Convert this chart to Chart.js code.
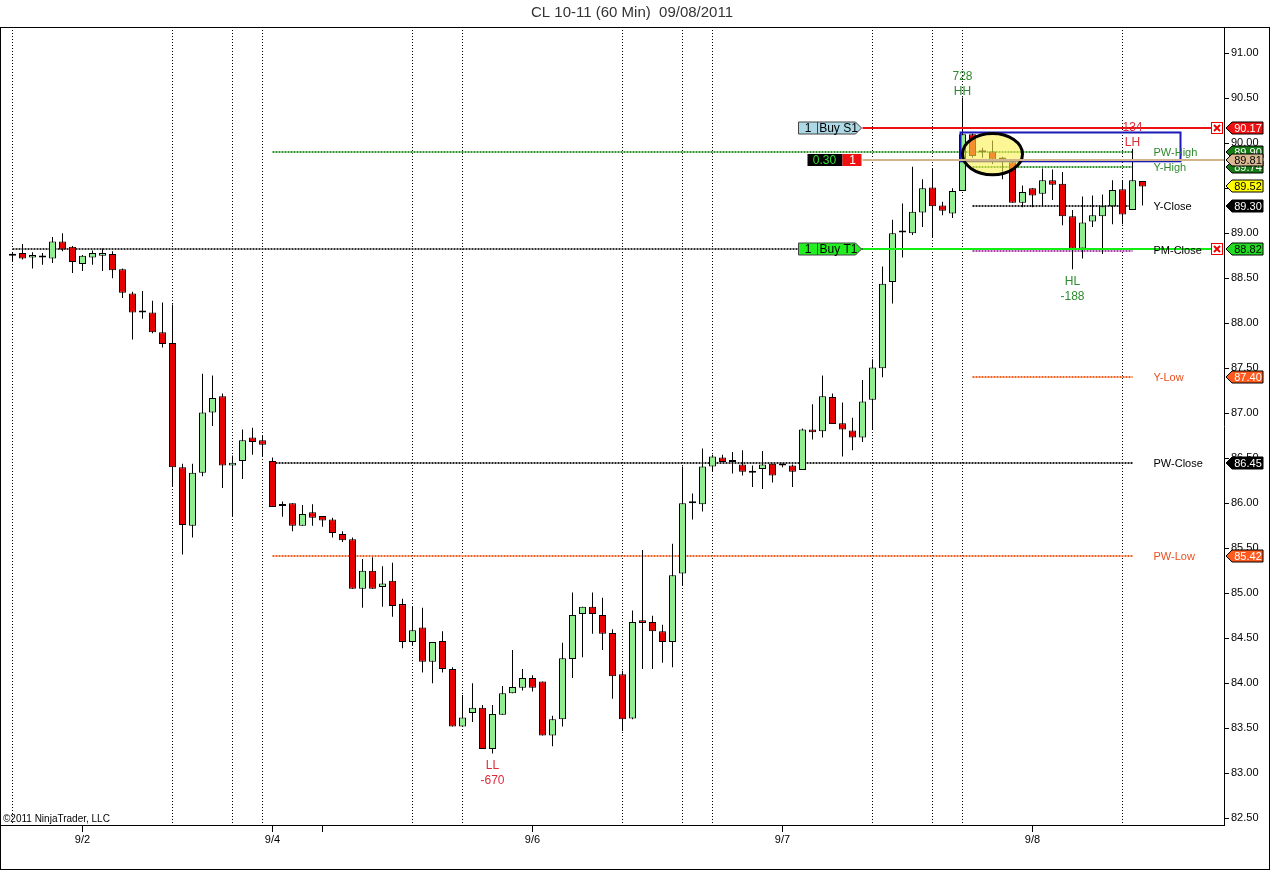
<!DOCTYPE html>
<html>
<head>
<meta charset="utf-8">
<title>CL 10-11 (60 Min) 09/08/2011</title>
<script src="https://cdn.jsdelivr.net/npm/chart.js@4.4.0/dist/chart.umd.min.js"></script>
<style>
  html, body { margin: 0; padding: 0; background: #fff; }
  #chart { display: block; }
</style>
</head>
<body>
<canvas id="chart" width="1272" height="871"></canvas>
<script>
// hourly bars (index 0 = first bar on the left)
const OPEN = [
  88.75, 88.78, 88.73, 88.73, 88.72, 88.91, 88.85, 88.66, 88.73, 88.75,
  88.77, 88.60, 88.33, 88.12, 88.12, 87.90, 87.78, 86.40, 85.75, 86.34,
  87.01, 87.19, 86.42, 86.47, 86.73, 86.70, 86.47, 85.97, 86.00, 85.75,
  85.90, 85.86, 85.82, 85.66, 85.60, 85.05, 85.25, 85.07, 85.14, 84.88,
  84.46, 84.62, 84.24, 84.47, 84.16, 83.52, 83.67, 83.73, 83.27, 83.65,
  83.89, 83.95, 84.06, 84.02, 83.42, 83.60, 84.27, 84.77, 84.85, 84.76,
  84.56, 84.10, 83.61, 84.70, 84.68, 84.58, 84.46, 85.22, 86.00, 85.99,
  86.41, 86.51, 86.46, 86.43, 86.34, 86.38, 86.44, 86.42, 86.42, 86.37,
  86.82, 86.80, 87.18, 86.89, 86.81, 86.73, 87.15, 87.50, 88.46, 89.01,
  89.00, 89.23, 89.51, 89.31, 89.22, 89.47, 90.10, 89.90, 89.91, 89.84,
  89.79, 89.34, 89.50, 89.44, 89.59, 89.55, 89.19, 88.83, 89.13, 89.19,
  89.30, 89.49, 89.26, 89.58
];
const HIGH = [
  88.79, 88.88, 88.79, 88.78, 88.96, 89.00, 88.86, 88.76, 88.81, 88.83,
  88.80, 88.61, 88.35, 88.36, 88.25, 88.23, 88.21, 86.44, 86.44, 87.44,
  87.42, 87.22, 86.53, 86.82, 86.84, 86.76, 86.51, 86.02, 86.00, 85.98,
  85.99, 85.86, 85.84, 85.69, 85.62, 85.38, 85.40, 85.30, 85.34, 84.94,
  84.85, 84.84, 84.46, 84.58, 84.18, 83.87, 84.00, 83.76, 83.76, 83.97,
  84.37, 84.16, 84.09, 84.02, 83.64, 84.45, 85.01, 84.85, 85.01, 84.95,
  84.60, 84.14, 84.81, 85.48, 84.75, 84.65, 85.55, 86.41, 86.11, 86.61,
  86.54, 86.54, 86.57, 86.59, 86.42, 86.58, 86.44, 86.44, 86.43, 86.83,
  87.10, 87.42, 87.22, 87.12, 86.95, 87.37, 87.60, 88.63, 89.15, 89.33,
  89.74, 89.60, 89.72, 89.35, 89.50, 90.51, 90.11, 89.95, 90.03, 89.85,
  89.80, 89.53, 89.50, 89.72, 89.71, 89.68, 89.26, 89.41, 89.42, 89.43,
  89.59, 89.59, 89.94, 89.58
];
const LOW = [
  88.69, 88.71, 88.61, 88.65, 88.67, 88.80, 88.56, 88.58, 88.65, 88.58,
  88.50, 88.28, 87.82, 88.05, 87.89, 87.73, 86.18, 85.43, 85.62, 86.30,
  86.86, 86.17, 85.86, 86.27, 86.54, 86.52, 85.96, 85.85, 85.69, 85.75,
  85.75, 85.74, 85.62, 85.57, 85.05, 84.84, 85.05, 84.85, 84.74, 84.39,
  84.42, 84.12, 84.00, 84.12, 83.52, 83.52, 83.57, 83.27, 83.22, 83.65,
  83.89, 83.92, 83.91, 83.42, 83.30, 83.52, 84.06, 84.29, 84.55, 84.37,
  83.83, 83.47, 83.60, 84.16, 84.16, 84.23, 84.18, 85.09, 85.82, 85.91,
  86.35, 86.46, 86.33, 86.31, 86.18, 86.16, 86.23, 86.40, 86.18, 86.37,
  86.71, 86.73, 86.88, 86.52, 86.59, 86.68, 86.82, 87.40, 88.22, 88.73,
  88.98, 89.07, 88.95, 89.20, 89.17, 89.47, 89.84, 89.84, 89.77, 89.60,
  89.34, 89.29, 89.29, 89.30, 89.37, 89.09, 88.60, 88.72, 89.07, 88.77,
  89.10, 89.10, 89.26, 89.31
];
const CLOSE = [
  88.75, 88.72, 88.76, 88.73, 88.91, 88.82, 88.68, 88.75, 88.78, 88.78,
  88.59, 88.34, 88.12, 88.12, 87.90, 87.77, 86.40, 85.76, 86.34, 87.01,
  87.17, 86.42, 86.45, 86.70, 86.68, 86.65, 85.96, 85.97, 85.75, 85.88,
  85.84, 85.81, 85.67, 85.59, 85.05, 85.25, 85.05, 85.11, 84.86, 84.46,
  84.59, 84.24, 84.46, 84.16, 83.52, 83.62, 83.73, 83.27, 83.66, 83.89,
  83.96, 84.06, 83.95, 83.42, 83.60, 84.28, 84.76, 84.85, 84.77, 84.55,
  84.08, 83.60, 84.68, 84.67, 84.58, 84.46, 85.20, 86.00, 86.00, 86.41,
  86.52, 86.46, 86.46, 86.35, 86.34, 86.43, 86.31, 86.42, 86.35, 86.82,
  86.79, 87.19, 86.88, 86.82, 86.73, 87.13, 87.51, 88.44, 89.00, 89.01,
  89.24, 89.50, 89.30, 89.25, 89.47, 90.10, 89.86, 89.90, 89.82, 89.82,
  89.34, 89.46, 89.42, 89.59, 89.54, 89.19, 88.83, 89.12, 89.20, 89.30,
  89.48, 89.21, 89.59, 89.52
];

// session breaks (bar index)
const SESSIONS = [0, 16, 22, 25, 40, 45, 61, 67, 70, 86, 92, 95, 111];

// axis ticks
const Y_TICKS = [82.5, 83, 83.5, 84, 84.5, 85, 85.5, 86, 86.5, 87, 87.5, 88, 88.5, 89, 89.5, 90, 90.5, 91];
const X_TICK_BARS = [7, 26, 31, 52, 77, 102];
const X_TICK_LABELS = ['9/2', '9/4', '', '9/6', '9/7', '9/8'];
const Y_MIN = 82.426, Y_MAX = 91.292;
const X_MIN = -1.15, X_MAX = 121.15;

// reference levels
const LEVEL_NAMES  = ['PW-High', 'Y-High', 'Y-Close', 'PM-Close', 'Y-Low', 'PW-Close', 'PW-Low'];
const LEVEL_VALUES = [89.90, 89.74, 89.30, 88.82, 87.40, 86.45, 85.42];

// orders
const ORDER_STOP = 90.17;
const ORDER_TARGET = 88.82;
const POSITION_PRICE = 89.81;

// price tags on the right axis
const TAG_VALUES = [90.17, 89.90, 89.74, 89.81, 89.52, 89.30, 88.82, 87.40, 86.45, 85.42];

// swing labels
const SWINGS = [
  { bar: 95,  lines: ['728', 'HH'],  above: true },
  { bar: 112, lines: ['134', 'LH'],  above: true },
  { bar: 106, lines: ['HL', '-188'], above: false },
  { bar: 48,  lines: ['LL', '-670'], above: false }
];

const UP = '#90ee90', DOWN = '#e60000';
const FONT = "'Liberation Sans', Arial, sans-serif";

const levelStyle = {
  'PW-High':  { color: '#2f922f', text: '#2f8a2f', from: 26 },
  'Y-High':   { color: '#2f922f', text: '#2f8a2f', from: 96 },
  'Y-Close':  { color: '#222',    text: '#000',    from: 96 },
  'PM-Close': { color: '#333',    text: '#000',    from: 0 },
  'Y-Low':    { color: '#f06020', text: '#e8501e', from: 96 },
  'PW-Close': { color: '#222',    text: '#000',    from: 26 },
  'PW-Low':   { color: '#f06020', text: '#e8501e', from: 26 }
};
const LEVEL_END = 112;

const tagStyle = {
  '90.17': ['#ee1111', '#fff'],
  '89.90': ['#157a15', '#fff'],
  '89.74': ['#157a15', '#fff'],
  '89.81': ['#d9b892', '#000'],
  '89.52': ['#ffff00', '#000'],
  '89.30': ['#000', '#fff'],
  '88.82': ['#22dd22', '#000'],
  '87.40': ['#ff5a1e', '#fff'],
  '86.45': ['#000', '#fff'],
  '85.42': ['#ff5a1e', '#fff']
};

const bodies = OPEN.map((o, i) => ({ x: i, y: [o, CLOSE[i]] }));
const wicks = LOW.map((l, i) => ({ x: i, y: [l, HIGH[i]] }));
const bodyColors = OPEN.map((o, i) => CLOSE[i] >= o ? UP : DOWN);

function orderTag(ctx, xRight, y, cells, bg) {
  const h = 6;
  let total = cells.reduce((s, c) => s + c.w, 0) + 6;
  let x = xRight - total;
  ctx.beginPath();
  ctx.moveTo(x, y - h);
  ctx.lineTo(xRight - 6, y - h);
  ctx.lineTo(xRight, y);
  ctx.lineTo(xRight - 6, y + h);
  ctx.lineTo(x, y + h);
  ctx.closePath();
  ctx.fillStyle = bg;
  ctx.fill();
  ctx.strokeStyle = '#444';
  ctx.lineWidth = 1;
  ctx.stroke();
  ctx.font = '12px ' + FONT;
  ctx.textBaseline = 'middle';
  ctx.fillStyle = '#000';
  cells.forEach((c, k) => {
    if (k > 0) {
      ctx.beginPath();
      ctx.moveTo(Math.round(x) + 0.5, y - h);
      ctx.lineTo(Math.round(x) + 0.5, y + h);
      ctx.stroke();
    }
    ctx.textAlign = 'center';
    ctx.fillText(c.text, x + c.w / 2 + (k > 0 ? 2 : 0), y + 1);
    x += c.w;
  });
}

function xBox(ctx, x, y) {
  ctx.fillStyle = '#fff';
  ctx.fillRect(x, y - 6, 12, 12);
  ctx.strokeStyle = '#e00';
  ctx.lineWidth = 1;
  ctx.strokeRect(x + 0.5, y - 5.5, 11, 11);
  ctx.lineWidth = 2;
  ctx.beginPath();
  ctx.moveTo(x + 3, y - 3); ctx.lineTo(x + 9, y + 3);
  ctx.moveTo(x + 9, y - 3); ctx.lineTo(x + 3, y + 3);
  ctx.stroke();
}

function priceTag(ctx, x0, y, text, bg, fg) {
  const h = 6;
  ctx.beginPath();
  ctx.moveTo(x0, y);
  ctx.lineTo(x0 + 6, y - h);
  ctx.lineTo(x0 + 37, y - h);
  ctx.lineTo(x0 + 37, y + h);
  ctx.lineTo(x0 + 6, y + h);
  ctx.closePath();
  ctx.fillStyle = bg;
  ctx.fill();
  ctx.strokeStyle = '#000';
  ctx.lineWidth = 1;
  ctx.stroke();
  ctx.fillStyle = fg;
  ctx.font = '11px ' + FONT;
  ctx.textAlign = 'center';
  ctx.textBaseline = 'middle';
  ctx.fillText(text, x0 + 22, y + 0.5);
}

const overlay = {
  id: 'overlay',
  beforeDraw(chart) {
    const ctx = chart.ctx;
    ctx.save();
    ctx.fillStyle = '#fff';
    ctx.fillRect(0, 0, chart.width, chart.height);
    ctx.restore();
  },
  beforeDatasetsDraw(chart) {
    const { ctx, chartArea: a, scales: { x, y } } = chart;
    ctx.save();
    // session separators
    ctx.strokeStyle = '#000';
    ctx.lineWidth = 1;
    ctx.setLineDash([1, 2]);
    SESSIONS.forEach(b => {
      const px = Math.round(x.getPixelForValue(b) - 0.5) + 0.5;
      ctx.beginPath();
      ctx.moveTo(px, a.top);
      ctx.lineTo(px, a.bottom);
      ctx.stroke();
    });
    // reference levels
    ctx.lineWidth = 2;
    ctx.setLineDash([2, 1]);
    LEVEL_NAMES.forEach((name, k) => {
      const st = levelStyle[name];
      const py = Math.round(y.getPixelForValue(LEVEL_VALUES[k]));
      ctx.strokeStyle = st.color;
      ctx.beginPath();
      ctx.moveTo(x.getPixelForValue(st.from), py);
      ctx.lineTo(x.getPixelForValue(LEVEL_END), py);
      ctx.stroke();
    });
    // second close line just under the target
    ctx.strokeStyle = '#b040b0';
    const pm = Math.round(y.getPixelForValue(ORDER_TARGET)) + 2;
    ctx.beginPath();
    ctx.moveTo(x.getPixelForValue(96), pm);
    ctx.lineTo(x.getPixelForValue(LEVEL_END), pm);
    ctx.stroke();
    ctx.restore();
  },
  afterDatasetsDraw(chart) {
    const { ctx, chartArea: a, scales: { x, y } } = chart;
    ctx.save();
    const orderX = x.getPixelForValue(85);
    const xBoxX = a.right - 13;

    // box around the top
    ctx.strokeStyle = '#1a1ab8';
    ctx.lineWidth = 2;
    const rx0 = x.getPixelForValue(94.8), rx1 = x.getPixelForValue(116.8);
    const ry0 = y.getPixelForValue(90.12), ry1 = y.getPixelForValue(89.80);
    ctx.strokeRect(rx0, ry0, rx1 - rx0, ry1 - ry0);

    // ellipse
    const ex = x.getPixelForValue(98), ey = y.getPixelForValue(89.88);
    const erx = x.getPixelForValue(101) - ex, ery = ey - y.getPixelForValue(90.11);
    ctx.beginPath();
    ctx.ellipse(ex, ey, erx, ery, 0, 0, Math.PI * 2);
    ctx.fillStyle = 'rgba(250, 240, 80, 0.6)';
    ctx.fill();
    ctx.strokeStyle = '#000';
    ctx.lineWidth = 3;
    ctx.stroke();

    // order lines
    ctx.lineWidth = 2;
    const ys = Math.round(y.getPixelForValue(ORDER_STOP));
    const yt = Math.round(y.getPixelForValue(ORDER_TARGET));
    const yq = Math.round(y.getPixelForValue(POSITION_PRICE));
    ctx.strokeStyle = '#ee1111';
    ctx.beginPath(); ctx.moveTo(orderX, ys); ctx.lineTo(xBoxX, ys); ctx.stroke();
    ctx.strokeStyle = '#d2b48c';
    ctx.beginPath(); ctx.moveTo(orderX, yq); ctx.lineTo(a.right, yq); ctx.stroke();
    ctx.strokeStyle = '#11ee11';
    ctx.beginPath(); ctx.moveTo(orderX, yt); ctx.lineTo(xBoxX, yt); ctx.stroke();

    orderTag(ctx, orderX - 1, ys, [{ w: 19, text: '1' }, { w: 38, text: 'Buy S1' }], '#add8e6');
    orderTag(ctx, orderX - 1, yt, [{ w: 19, text: '1' }, { w: 38, text: 'Buy T1' }], '#22ee22');
    // position marker
    ctx.fillStyle = '#000';
    ctx.fillRect(orderX - 55, yq - 6, 35, 12);
    ctx.fillStyle = '#ee1111';
    ctx.fillRect(orderX - 20, yq - 6, 19, 12);
    ctx.font = '12px ' + FONT;
    ctx.textAlign = 'center';
    ctx.textBaseline = 'middle';
    ctx.fillStyle = '#33dd33';
    ctx.fillText('0.30', orderX - 38, yq + 1);
    ctx.fillStyle = '#fff';
    ctx.fillText('1', orderX - 10, yq + 1);

    xBox(ctx, xBoxX, ys);
    xBox(ctx, xBoxX, yt);

    // swing labels
    ctx.font = '12px ' + FONT;
    SWINGS.forEach(s => {
      const px = x.getPixelForValue(s.bar);
      const green = s.lines[1] === 'HH' || s.lines[0] === 'HL';
      ctx.fillStyle = green ? '#2f8a2f' : '#dd2b3a';
      if (s.above) {
        const py = y.getPixelForValue(HIGH[s.bar]);
        ctx.fillText(s.lines[0], px, py - 21);
        ctx.fillText(s.lines[1], px, py - 6);
      } else {
        const py = y.getPixelForValue(LOW[s.bar]);
        ctx.fillText(s.lines[0], px, py + 12);
        ctx.fillText(s.lines[1], px, py + 27);
      }
    });

    // level names
    ctx.font = '11px ' + FONT;
    ctx.textAlign = 'left';
    LEVEL_NAMES.forEach((name, k) => {
      ctx.fillStyle = levelStyle[name].text;
      ctx.fillText(name, x.getPixelForValue(LEVEL_END) + 21, y.getPixelForValue(LEVEL_VALUES[k]) + 1);
    });

    // right axis price tags
    TAG_VALUES.forEach(v => {
      const st = tagStyle[v.toFixed(2)];
      priceTag(ctx, a.right + 2, Math.round(y.getPixelForValue(v)), v.toFixed(2), st[0], st[1]);
    });

    // date tick marks under the axis
    ctx.strokeStyle = '#000';
    ctx.lineWidth = 1;
    X_TICK_BARS.forEach(b => {
      const px = Math.round(x.getPixelForValue(b) - 0.5) + 0.5;
      ctx.beginPath();
      ctx.moveTo(px, a.bottom);
      ctx.lineTo(px, a.bottom + 7);
      ctx.stroke();
    });

    // title, copyright and frame
    ctx.fillStyle = '#333';
    ctx.font = '15px ' + FONT;
    ctx.textAlign = 'center';
    ctx.fillText('CL 10-11 (60 Min)  09/08/2011', 632, 13);
    ctx.fillStyle = '#000';
    ctx.font = '10px ' + FONT;
    ctx.textAlign = 'left';
    ctx.fillText('\u00a92011 NinjaTrader, LLC', 3, 819);
    ctx.strokeStyle = '#000';
    ctx.lineWidth = 1;
    ctx.strokeRect(0.5, 27.5, 1269, 842);
    ctx.restore();
  }
};

Chart.defaults.font.family = FONT;

new Chart(document.getElementById('chart'), {
  type: 'bar',
  plugins: [overlay],
  data: {
    datasets: [
      {
        data: bodies,
        backgroundColor: bodyColors,
        borderColor: '#000',
        borderWidth: 1,
        borderSkipped: false,
        inflateAmount: 0,
        barThickness: 7,
        minBarLength: 2,
        grouped: false
      },
      {
        data: wicks,
        backgroundColor: '#000',
        borderWidth: 0,
        inflateAmount: 0,
        barThickness: 1,
        grouped: false
      }
    ]
  },
  options: {
    responsive: false,
    animation: false,
    events: [],
    layout: { padding: { top: 27, right: 2, bottom: 1, left: 1 } },
    plugins: { legend: { display: false }, tooltip: { enabled: false } },
    scales: {
      x: {
        type: 'linear',
        min: X_MIN,
        max: X_MAX,
        offset: false,
        afterBuildTicks: s => { s.ticks = X_TICK_BARS.map(v => ({ value: v })); },
        afterFit: s => { s.height = 45; },
        grid: { offset: false, drawOnChartArea: false, tickLength: 7, color: '#000' },
        border: { display: true, color: '#000', width: 1 },
        ticks: {
          autoSkip: false, maxRotation: 0, padding: 1, color: '#000',
          font: { size: 11 },
          callback: (v, i) => X_TICK_LABELS[i]
        }
      },
      y: {
        position: 'right',
        min: Y_MIN,
        max: Y_MAX,
        afterBuildTicks: s => { s.ticks = Y_TICKS.map(v => ({ value: v })); },
        afterFit: s => { s.width = 46; },
        grid: { drawOnChartArea: false, tickLength: 5, color: '#000' },
        border: { display: true, color: '#000', width: 1 },
        ticks: { padding: 2, color: '#000', font: { size: 11 }, callback: v => v.toFixed(2) }
      }
    }
  }
});
</script>
</body>
</html>
